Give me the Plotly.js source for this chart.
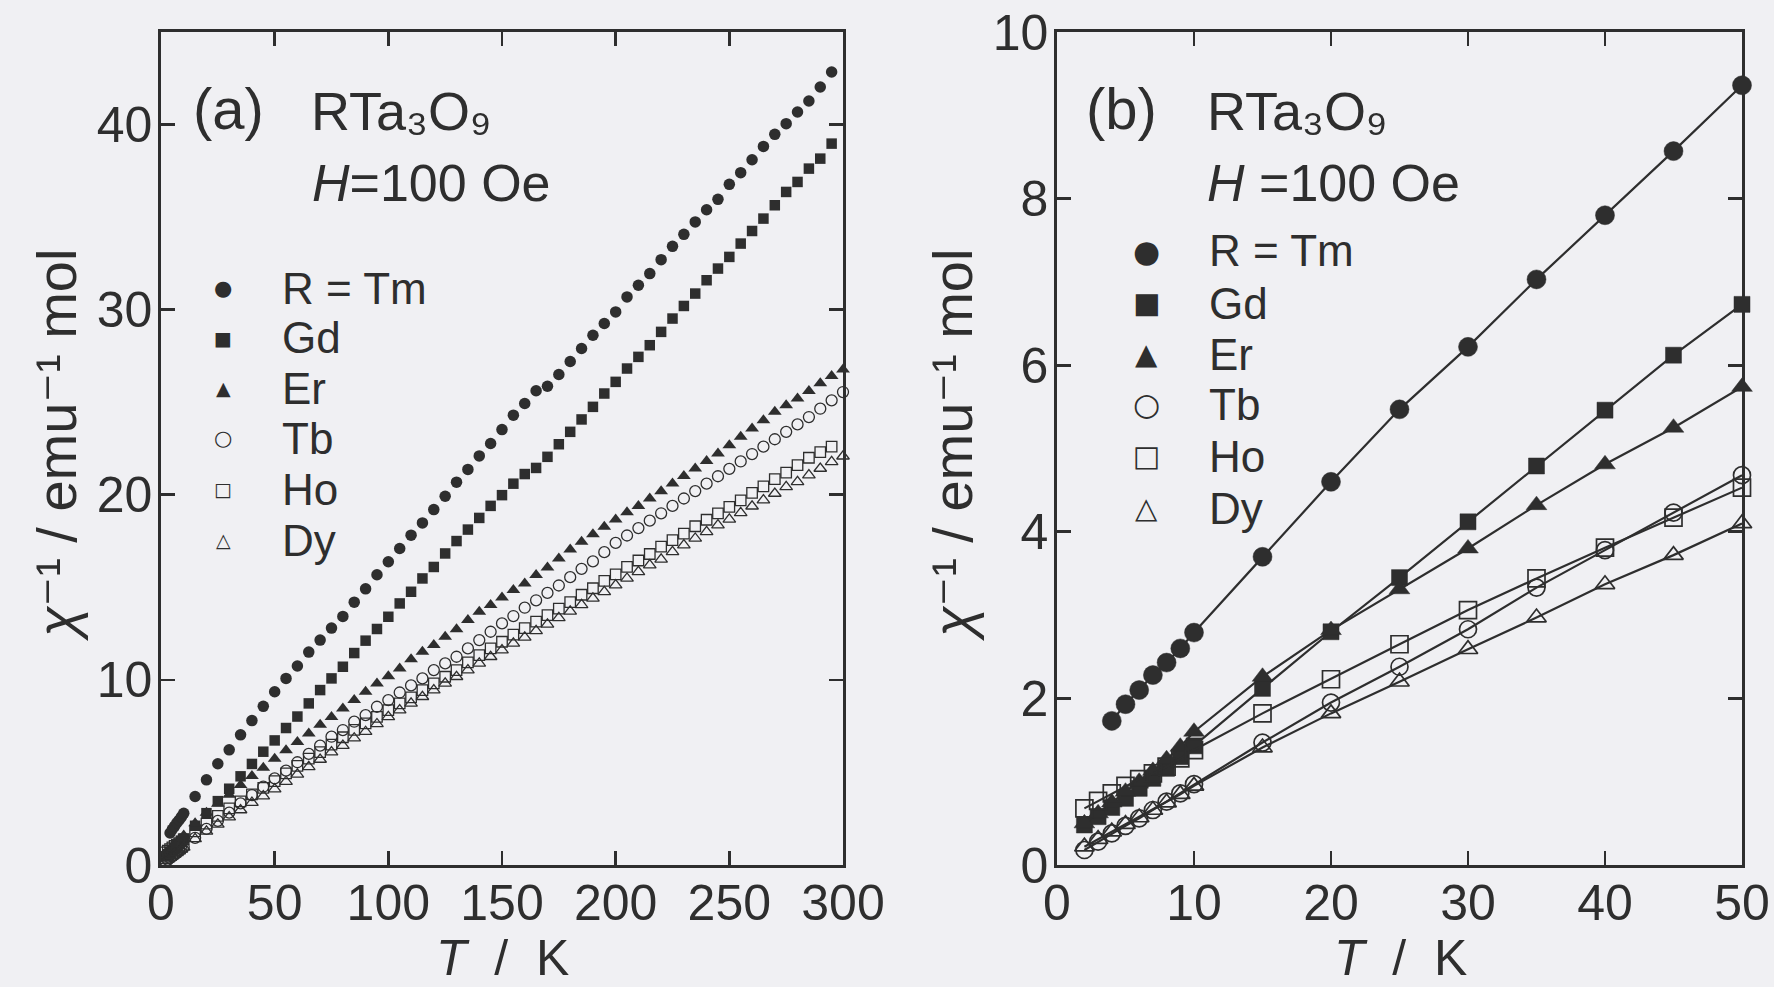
<!DOCTYPE html>
<html><head><meta charset="utf-8">
<script src="https://cdn.plot.ly/plotly-3.0.1.min.js"></script>
<style>html,body{margin:0;padding:0;background:#f0f0f3;} #chart{width:1774px;height:987px;}</style>
</head><body><div id="chart"></div>
<script>
// ---------------- data ----------------
const temperatureK = [2,3,4,5,6,7,8,9,10,15,20,25,30,35,40,45,50,55,60,65,70,75,80,85,90,95,100,105,110,115,120,125,130,135,140,145,150,155,160,165,170,175,180,185,190,195,200,205,210,215,220,225,230,235,240,245,250,255,260,265,270,275,280,285,290,295,300];

const invChiTm = [null,null,1.73,1.93,2.10,2.28,2.43,2.60,2.79,3.70,4.60,5.47,6.22,7.03,7.80,8.57,9.36,10.08,10.75,11.50,12.15,12.80,13.43,14.20,14.92,15.68,16.38,17.10,17.82,18.48,19.20,19.92,20.68,21.37,22.10,22.77,23.52,24.30,24.93,25.62,25.86,26.50,27.20,27.90,28.62,29.25,29.88,30.69,31.32,31.95,32.70,33.42,34.07,34.74,35.40,35.96,36.77,37.40,38.10,38.82,39.47,40.05,40.68,41.27,42.03,42.84,null];
const invChiGd = [0.48,0.58,0.69,0.80,0.92,1.04,1.16,1.30,1.43,2.12,2.80,3.45,4.12,4.79,5.46,6.12,6.73,7.40,8.02,8.73,9.45,10.08,10.71,11.45,12.12,12.75,13.41,14.13,14.76,15.48,16.10,16.83,17.50,18.12,18.75,19.40,19.98,20.60,21.12,21.45,22.05,22.73,23.40,24.07,24.75,25.47,26.10,26.82,27.45,28.08,28.80,29.52,30.20,30.87,31.59,32.22,32.85,33.57,34.25,34.92,35.64,36.36,36.90,37.62,38.16,38.97,null];
const invChiEr = [0.50,0.62,0.75,0.88,1.00,1.13,1.27,1.42,1.60,2.26,2.82,3.31,3.80,4.32,4.81,5.25,5.74,6.20,6.65,7.11,7.58,8.00,8.46,8.91,9.36,9.81,10.20,10.62,11.11,11.52,11.88,12.33,12.73,13.23,13.68,14.04,14.45,14.85,15.21,15.66,16.07,16.56,17.05,17.46,17.87,18.27,18.67,19.05,19.40,19.80,20.19,20.61,21.02,21.42,21.83,22.23,22.68,23.13,23.58,24.03,24.48,24.84,25.20,25.60,26.02,26.41,26.77];
const invChiTb = [0.18,0.28,0.38,0.47,0.56,0.66,0.76,0.86,0.97,1.47,1.95,2.38,2.83,3.33,3.78,4.23,4.68,5.10,5.55,6.00,6.45,6.93,7.29,7.74,8.10,8.55,8.91,9.32,9.70,10.08,10.53,10.89,11.25,11.70,12.15,12.60,13.05,13.45,13.90,14.30,14.70,15.10,15.55,16.00,16.40,16.90,17.40,17.80,18.20,18.60,19.00,19.40,19.80,20.20,20.60,21.00,21.40,21.80,22.20,22.60,23.00,23.40,23.80,24.20,24.65,25.10,25.55];
const invChiHo = [0.68,0.77,0.86,0.95,1.03,1.10,1.18,1.28,1.38,1.82,2.23,2.65,3.06,3.44,3.81,4.17,4.53,4.95,5.35,5.75,6.10,6.50,6.90,7.30,7.65,8.00,8.37,8.73,9.05,9.45,9.81,10.17,10.53,10.95,11.34,11.70,12.06,12.45,12.80,13.15,13.50,13.85,14.20,14.60,14.95,15.35,15.70,16.10,16.45,16.80,17.20,17.55,17.90,18.30,18.65,19.00,19.35,19.70,20.10,20.45,20.85,21.20,21.60,22.00,22.30,22.60,null];
const invChiDy = [0.22,0.31,0.40,0.49,0.57,0.66,0.75,0.85,0.95,1.41,1.82,2.20,2.59,2.97,3.37,3.72,4.10,4.50,4.90,5.30,5.70,6.10,6.45,6.85,7.20,7.62,8.00,8.37,8.73,9.09,9.45,9.81,10.17,10.53,10.89,11.25,11.61,11.97,12.30,12.65,13.00,13.35,13.70,14.05,14.40,14.76,15.12,15.48,15.84,16.20,16.51,16.92,17.28,17.64,18.00,18.36,18.67,19.02,19.38,19.71,20.07,20.43,20.70,21.06,21.42,21.78,22.08];

const seriesNames = ['R = Tm', 'Gd', 'Er', 'Tb', 'Ho', 'Dy'];
const seriesValues = [invChiTm, invChiGd, invChiEr, invChiTb, invChiHo, invChiDy];

const xTicksA = [0, 50, 100, 150, 200, 250, 300];
const yTicksA = [0, 10, 20, 30, 40];
const xTicksB = [0, 10, 20, 30, 40, 50];
const yTicksB = [0, 2, 4, 6, 8, 10];
const bMaxT = 50;

// ---------------- styles ----------------
const INK = '#2e2e2e';
const BG = '#f0f0f3';
const FONT = 'Liberation Sans, Arial, Helvetica, DejaVu Sans, sans-serif';
const markerStyles = [
  {symbol: 'circle',           sizeA: 11.5, sizeB: 19, glyph: '\u25CF', gA: 21, gB: 31},
  {symbol: 'square',           sizeA: 10.5, sizeB: 16, glyph: '\u25A0', gA: 19, gB: 29},
  {symbol: 'triangle-up',      sizeA: 12,   sizeB: 18, glyph: '\u25B2', gA: 19, gB: 29},
  {symbol: 'circle-open',      sizeA: 11,   sizeB: 17, glyph: '\u25CB', gA: 21, gB: 31},
  {symbol: 'square-open',      sizeA: 10.5, sizeB: 17, glyph: '\u25A1', gA: 19, gB: 29},
  {symbol: 'triangle-up-open', sizeA: 11,   sizeB: 17, glyph: '\u25B3', gA: 19, gB: 29}
];

const traces = [];
seriesValues.forEach((vals, k) => {
  const st = markerStyles[k];
  const open = st.symbol.indexOf('open') >= 0;
  traces.push({
    type: 'scatter', mode: 'markers', name: seriesNames[k],
    x: temperatureK, y: vals, xaxis: 'x', yaxis: 'y', cliponaxis: false, showlegend: false,
    marker: {symbol: st.symbol, size: st.sizeA, color: INK, line: {color: INK, width: open ? 1.3 : 0}}
  });
  const xb = [], yb = [];
  temperatureK.forEach((t, i) => { if (t <= bMaxT && vals[i] !== null) { xb.push(t); yb.push(vals[i]); } });
  traces.push({
    type: 'scatter', mode: 'lines+markers', name: seriesNames[k],
    x: xb, y: yb, xaxis: 'x2', yaxis: 'y2', cliponaxis: false, showlegend: false,
    line: {color: INK, width: 2.2},
    marker: {symbol: st.symbol, size: st.sizeB, color: INK, line: {color: INK, width: open ? 1.7 : 0.5}}
  });
});

const axisCommon = {
  showline: true, linecolor: INK, linewidth: 2.7, mirror: 'ticks',
  ticks: 'inside', ticklen: 14, tickwidth: 2.7, tickcolor: INK,
  showgrid: false, zeroline: false, fixedrange: true,
  tickfont: {family: FONT, size: 50, color: INK}
};
const W = 1774, H = 987;
const px = v => v / W, py = v => 1 - v / H;
const yDom = [py(865), py(32)];

const annotations = [];
function txt(text, x, y, size, opts) {
  annotations.push(Object.assign({text: text, x: px(x), y: py(y), xref: 'paper', yref: 'paper',
    showarrow: false, xanchor: 'left', yanchor: 'middle', borderpad: 0,
    font: {family: FONT, size: size, color: INK}}, opts || {}));
}
// panel labels
const compound = 'RTa\u2083O\u2089';
txt('(a)', 192, 108, 58);
txt(compound, 310, 111, 54);
txt('<i>H</i>=100 Oe', 311, 183, 52);
txt('(b)', 1085, 108, 58);
txt(compound, 1206, 111, 54);
txt('<i>H</i> =100 Oe', 1206, 183, 52);
// axis titles
const yTitle = '<i>\u03C7</i>\u207B\u00B9 / emu\u207B\u00B9 mol';
txt(yTitle, 56, 446, 56, {xanchor: 'center', textangle: -90});
txt(yTitle, 952, 446, 56, {xanchor: 'center', textangle: -90});
txt('<i>T</i>  /  K', 502, 0, 50, {xanchor: 'center', yanchor: 'bottom', y: 0});
txt('<i>T</i>  /  K', 1400, 0, 50, {xanchor: 'center', yanchor: 'bottom', y: 0});
// legends
const legRowsA = [288, 338, 388, 438, 489, 540];
const legRowsB = [251, 303, 354, 404, 456, 508];
seriesNames.forEach((nm, k) => {
  const st = markerStyles[k];
  txt(st.glyph, 223, legRowsA[k], st.gA, {xanchor: 'center', font: {family: 'DejaVu Sans', size: st.gA, color: INK}});
  txt(nm, 281, legRowsA[k], 44);
  txt(st.glyph, 1146, legRowsB[k], st.gB, {xanchor: 'center', font: {family: 'DejaVu Sans', size: st.gB, color: INK}});
  txt(nm, 1208, legRowsB[k], 44);
});

const layout = {
  width: W, height: H, margin: {l: 0, r: 0, t: 0, b: 0},
  paper_bgcolor: BG, plot_bgcolor: BG, showlegend: false,
  xaxis: Object.assign({}, axisCommon, {domain: [px(161), px(843)], range: [0, 300], tickvals: xTicksA, anchor: 'y', ticklabelstandoff: -8}),
  yaxis: Object.assign({}, axisCommon, {domain: yDom, range: [0, 45], tickvals: yTicksA, anchor: 'x', ticklabelstandoff: -4}),
  xaxis2: Object.assign({}, axisCommon, {domain: [px(1057), px(1742)], range: [0, 50], tickvals: xTicksB, anchor: 'y2', ticklabelstandoff: -8}),
  yaxis2: Object.assign({}, axisCommon, {domain: yDom, range: [0, 10], tickvals: yTicksB, anchor: 'x2', ticklabelstandoff: -4}),
  annotations: annotations
};
Plotly.newPlot('chart', traces, layout, {staticPlot: true, displayModeBar: false});
</script></body></html>
